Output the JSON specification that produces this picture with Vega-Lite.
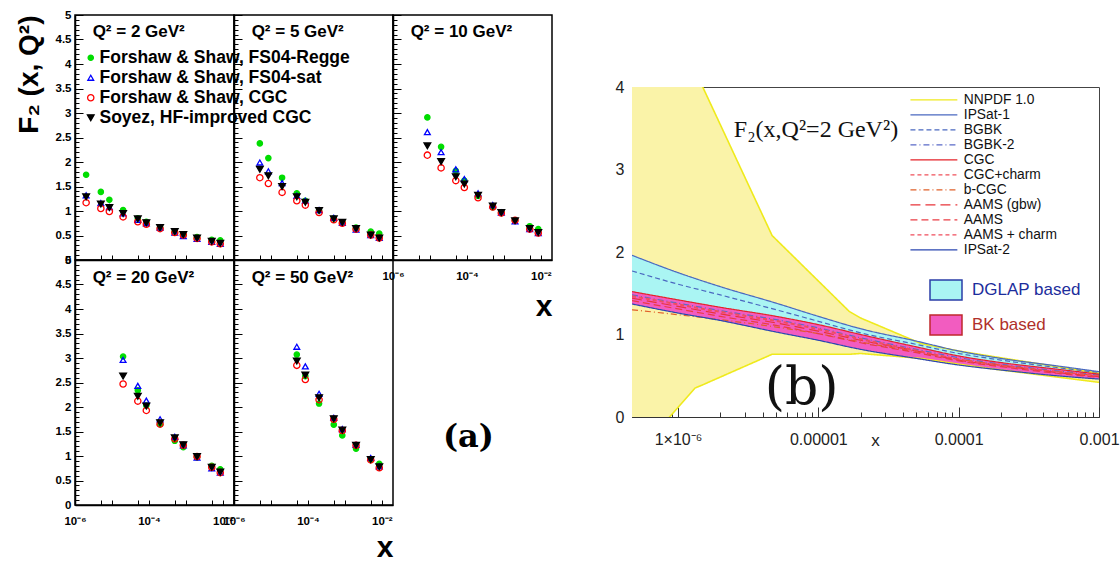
{
  "$schema": "https://vega.github.io/schema/vega-lite/v6.json",
  "padding": {"left": 14, "top": 8, "right": 0, "bottom": 0},
  "background": "white",
  "config": {"font": "Liberation Sans", "axis": {"grid": false}},
  "datasets": {
    "fs": [
      {"Q":2,"x":2e-6,"R":1.74,"S":1.32,"C":1.17,"Y":1.29},
      {"Q":2,"x":5e-6,"R":1.39,"S":1.16,"C":1.05,"Y":1.14},
      {"Q":2,"x":8.5e-6,"R":1.23,"S":1.08,"C":0.99,"Y":1.07},
      {"Q":2,"x":2e-5,"R":1.02,"S":0.95,"C":0.88,"Y":0.95},
      {"Q":2,"x":5e-5,"R":0.85,"S":0.82,"C":0.78,"Y":0.84},
      {"Q":2,"x":8.5e-5,"R":0.78,"S":0.75,"C":0.73,"Y":0.76},
      {"Q":2,"x":2e-4,"R":0.66,"S":0.66,"C":0.64,"Y":0.66},
      {"Q":2,"x":5e-4,"R":0.58,"S":0.56,"C":0.56,"Y":0.58},
      {"Q":2,"x":8.5e-4,"R":0.51,"S":0.49,"C":0.51,"Y":0.52},
      {"Q":2,"x":2e-3,"R":0.47,"S":0.43,"C":0.44,"Y":0.45},
      {"Q":2,"x":5e-3,"R":0.41,"S":0.37,"C":0.37,"Y":0.38},
      {"Q":2,"x":8.5e-3,"R":0.40,"S":0.33,"C":0.33,"Y":0.34},
      {"Q":5,"x":5e-6,"R":2.38,"S":1.99,"C":1.68,"Y":1.85},
      {"Q":5,"x":8.5e-6,"R":2.08,"S":1.81,"C":1.56,"Y":1.72},
      {"Q":5,"x":2e-5,"R":1.68,"S":1.57,"C":1.38,"Y":1.50},
      {"Q":5,"x":5e-5,"R":1.36,"S":1.31,"C":1.21,"Y":1.29},
      {"Q":5,"x":8.5e-5,"R":1.21,"S":1.21,"C":1.12,"Y":1.18},
      {"Q":5,"x":2e-4,"R":1.01,"S":1.02,"C":0.97,"Y":1.01},
      {"Q":5,"x":5e-4,"R":0.85,"S":0.86,"C":0.82,"Y":0.84},
      {"Q":5,"x":8.5e-4,"R":0.77,"S":0.76,"C":0.75,"Y":0.77},
      {"Q":5,"x":2e-3,"R":0.66,"S":0.62,"C":0.63,"Y":0.64},
      {"Q":5,"x":5e-3,"R":0.58,"S":0.51,"C":0.51,"Y":0.51},
      {"Q":5,"x":8.5e-3,"R":0.54,"S":0.45,"C":0.45,"Y":0.45},
      {"Q":10,"x":8.5e-6,"R":2.91,"S":2.61,"C":2.14,"Y":2.33},
      {"Q":10,"x":2e-5,"R":2.31,"S":2.20,"C":1.88,"Y":2.01},
      {"Q":10,"x":5e-5,"R":1.82,"S":1.85,"C":1.62,"Y":1.70},
      {"Q":10,"x":8.5e-5,"R":1.62,"S":1.65,"C":1.48,"Y":1.55},
      {"Q":10,"x":2e-4,"R":1.31,"S":1.36,"C":1.27,"Y":1.32},
      {"Q":10,"x":5e-4,"R":1.08,"S":1.12,"C":1.08,"Y":1.10},
      {"Q":10,"x":8.5e-4,"R":0.96,"S":0.97,"C":0.96,"Y":0.97},
      {"Q":10,"x":2e-3,"R":0.81,"S":0.79,"C":0.81,"Y":0.80},
      {"Q":10,"x":5e-3,"R":0.69,"S":0.63,"C":0.63,"Y":0.64},
      {"Q":10,"x":8.5e-3,"R":0.63,"S":0.55,"C":0.55,"Y":0.56},
      {"Q":20,"x":2e-5,"R":3.03,"S":2.96,"C":2.47,"Y":2.63},
      {"Q":20,"x":5e-5,"R":2.34,"S":2.43,"C":2.12,"Y":2.22},
      {"Q":20,"x":8.5e-5,"R":2.03,"S":2.13,"C":1.93,"Y":2.02},
      {"Q":20,"x":2e-4,"R":1.65,"S":1.75,"C":1.65,"Y":1.68},
      {"Q":20,"x":5e-4,"R":1.31,"S":1.39,"C":1.35,"Y":1.37},
      {"Q":20,"x":8.5e-4,"R":1.18,"S":1.22,"C":1.22,"Y":1.23},
      {"Q":20,"x":2e-3,"R":0.97,"S":0.97,"C":0.99,"Y":0.99},
      {"Q":20,"x":5e-3,"R":0.80,"S":0.75,"C":0.77,"Y":0.77},
      {"Q":20,"x":8.5e-3,"R":0.73,"S":0.66,"C":0.66,"Y":0.67},
      {"Q":50,"x":5e-5,"R":3.07,"S":3.23,"C":2.85,"Y":2.94},
      {"Q":50,"x":8.5e-5,"R":2.63,"S":2.83,"C":2.56,"Y":2.65},
      {"Q":50,"x":2e-4,"R":2.07,"S":2.27,"C":2.15,"Y":2.19},
      {"Q":50,"x":5e-4,"R":1.64,"S":1.78,"C":1.75,"Y":1.76},
      {"Q":50,"x":8.5e-4,"R":1.42,"S":1.55,"C":1.52,"Y":1.53},
      {"Q":50,"x":2e-3,"R":1.15,"S":1.23,"C":1.22,"Y":1.22},
      {"Q":50,"x":5e-3,"R":0.93,"S":0.96,"C":0.92,"Y":0.93},
      {"Q":50,"x":8.5e-3,"R":0.84,"S":0.79,"C":0.76,"Y":0.78}
    ],
    "nn": [
      {"x":4.7e-7,"lo":-0.8,"hi":5.3},
      {"x":8.7e-7,"lo":0.0,"hi":4.61},
      {"x":1.32e-6,"lo":0.35,"hi":4.14},
      {"x":1.5e-6,"lo":0.39,"hi":4.0},
      {"x":4.68e-6,"lo":0.76,"hi":2.2},
      {"x":1.66e-5,"lo":0.76,"hi":1.28},
      {"x":2e-5,"lo":0.77,"hi":1.20},
      {"x":5.4e-5,"lo":0.71,"hi":0.89},
      {"x":1e-4,"lo":0.64,"hi":0.80},
      {"x":1.8e-4,"lo":0.58,"hi":0.73},
      {"x":1e-3,"lo":0.42,"hi":0.53}
    ],
    "cv": [
      {"x":4.7e-7,"IPSat-1":1.96,"BGBK":1.77,"BGBK-2":1.48,"CGC":1.52,"CGC+charm":1.47,"b-CGC":1.30,"AAMS (gbw)":1.44,"AAMS":1.41,"AAMS + charm":1.46,"IPSat-2":1.37},
      {"x":1e-6,"IPSat-1":1.75,"BGBK":1.61,"BGBK-2":1.38,"CGC":1.42,"CGC+charm":1.37,"b-CGC":1.24,"AAMS (gbw)":1.34,"AAMS":1.31,"AAMS + charm":1.36,"IPSat-2":1.26},
      {"x":2e-6,"IPSat-1":1.58,"BGBK":1.48,"BGBK-2":1.29,"CGC":1.33,"CGC+charm":1.28,"b-CGC":1.18,"AAMS (gbw)":1.25,"AAMS":1.22,"AAMS + charm":1.27,"IPSat-2":1.17},
      {"x":5e-6,"IPSat-1":1.38,"BGBK":1.30,"BGBK-2":1.18,"CGC":1.22,"CGC+charm":1.17,"b-CGC":1.09,"AAMS (gbw)":1.14,"AAMS":1.11,"AAMS + charm":1.16,"IPSat-2":1.03},
      {"x":1e-5,"IPSat-1":1.22,"BGBK":1.16,"BGBK-2":1.08,"CGC":1.12,"CGC+charm":1.07,"b-CGC":1.01,"AAMS (gbw)":1.04,"AAMS":1.01,"AAMS + charm":1.06,"IPSat-2":0.93},
      {"x":2e-5,"IPSat-1":1.07,"BGBK":1.02,"BGBK-2":0.96,"CGC":1.00,"CGC+charm":0.95,"b-CGC":0.91,"AAMS (gbw)":0.93,"AAMS":0.90,"AAMS + charm":0.94,"IPSat-2":0.82},
      {"x":5e-5,"IPSat-1":0.92,"BGBK":0.88,"BGBK-2":0.82,"CGC":0.85,"CGC+charm":0.81,"b-CGC":0.79,"AAMS (gbw)":0.80,"AAMS":0.78,"AAMS + charm":0.80,"IPSat-2":0.71},
      {"x":1e-4,"IPSat-1":0.80,"BGBK":0.77,"BGBK-2":0.72,"CGC":0.74,"CGC+charm":0.70,"b-CGC":0.70,"AAMS (gbw)":0.69,"AAMS":0.68,"AAMS + charm":0.70,"IPSat-2":0.63},
      {"x":2e-4,"IPSat-1":0.71,"BGBK":0.69,"BGBK-2":0.64,"CGC":0.66,"CGC+charm":0.63,"b-CGC":0.63,"AAMS (gbw)":0.62,"AAMS":0.61,"AAMS + charm":0.62,"IPSat-2":0.57},
      {"x":5e-4,"IPSat-1":0.62,"BGBK":0.60,"BGBK-2":0.56,"CGC":0.58,"CGC+charm":0.55,"b-CGC":0.55,"AAMS (gbw)":0.54,"AAMS":0.53,"AAMS + charm":0.55,"IPSat-2":0.50},
      {"x":1e-3,"IPSat-1":0.55,"BGBK":0.54,"BGBK-2":0.51,"CGC":0.52,"CGC+charm":0.50,"b-CGC":0.50,"AAMS (gbw)":0.49,"AAMS":0.48,"AAMS + charm":0.50,"IPSat-2":0.46}
    ]
  },
  "spacing": 61,
  "resolve": {"scale": {"fill": "independent", "stroke": "independent", "shape": "independent", "size": "independent", "strokeDash": "independent"}},
  "hconcat": [
    {
      "columns": 3,
      "spacing": 0,
      "bounds": "flush",
      "resolve": {"scale": {"fill": "independent", "stroke": "independent", "shape": "independent", "size": "independent"}},
      "concat": [
        {
          "width": 159, "height": 245,
          "view": {"stroke": "black", "strokeWidth": 1.5},
          "resolve": {"axis": {"y": "independent"}},
          "layer": [
            {
              "data": {"name": "fs"},
              "transform": [{"filter": "datum.Q == 2"}, {"fold": ["R", "S", "C", "Y"], "as": ["m", "F"]}],
              "mark": {"type": "point", "opacity": 1, "strokeWidth": 1.3},
              "encoding": {
                "x": {"field": "x", "type": "quantitative", "scale": {"type": "log", "domain": [0.000001, 0.02], "nice": false},
                  "axis": {"values": [1e-6, 5e-6, 1e-5, 5e-5, 1e-4, 5e-4, 1e-3, 5e-3, 1e-2], "labels": false, "tickSize": -5, "tickColor": "black", "domainColor": "black", "domainWidth": 1.5, "title": null}},
                "y": {"field": "F", "type": "quantitative", "scale": {"domain": [0, 5], "nice": false, "zero": false},
                  "axis": {"orient": "left", "values": [0,0.5,1,1.5,2,2.5,3,3.5,4,4.5,5],
                    "labelExpr": "'' + datum.value", "tickSize": -8,
                    "labelPadding": 12, "labelFont": "Liberation Sans", "labelFontWeight": "bold", "labelFontSize": 11.5, "labelColor": "black",
                    "labelOverlap": false, "labelFlush": false,
                    "tickColor": "black", "domainColor": "black", "domainWidth": 1.5,
                    "title": "F₂ (x, Q²)", "titleFont": "Liberation Sans", "titleFontWeight": "bold", "titleFontSize": 28, "titleColor": "black",
                    "titleAngle": 270, "titleX": -38, "titleY": 0, "titleAlign": "right", "titleBaseline": "alphabetic"}},
                "shape": {"field": "m", "type": "nominal", "scale": {"domain": ["R", "S", "C", "Y"], "range": ["circle", "triangle-up", "circle", "triangle-down"]},
                  "legend": {"orient": "none", "legendX": 7, "legendY": 34, "title": null, "padding": 0, "labelExpr": "datum.label == 'R' ? 'Forshaw & Shaw, FS04-Regge' : datum.label == 'S' ? 'Forshaw & Shaw, FS04-sat' : datum.label == 'C' ? 'Forshaw & Shaw, CGC' : 'Soyez, HF-improved CGC'", "labelFont": "Liberation Sans", "labelFontWeight": "bold", "labelFontSize": 17.5, "labelColor": "black", "labelLimit": 500, "labelOffset": 0, "rowPadding": 1, "symbolStrokeWidth": 1.3, "encode": {"symbols": {"update": {"size": {"value": 22}}}}}},
                "fill": {"field": "m", "type": "nominal", "scale": {"domain": ["R", "S", "C", "Y"], "range": ["#00dd00", "transparent", "transparent", "#000000"]},
                  "legend": {"orient": "none", "legendX": 7, "legendY": 34, "title": null, "padding": 0, "labelExpr": "datum.label == 'R' ? 'Forshaw & Shaw, FS04-Regge' : datum.label == 'S' ? 'Forshaw & Shaw, FS04-sat' : datum.label == 'C' ? 'Forshaw & Shaw, CGC' : 'Soyez, HF-improved CGC'", "labelFont": "Liberation Sans", "labelFontWeight": "bold", "labelFontSize": 17.5, "labelColor": "black", "labelLimit": 500, "labelOffset": 0, "rowPadding": 1, "symbolStrokeWidth": 1.3, "encode": {"symbols": {"update": {"size": {"value": 22}}}}}},
                "stroke": {"field": "m", "type": "nominal", "scale": {"domain": ["R", "S", "C", "Y"], "range": ["#00dd00", "#0000ff", "#ff0000", "#000000"]},
                  "legend": {"orient": "none", "legendX": 7, "legendY": 34, "title": null, "padding": 0, "labelExpr": "datum.label == 'R' ? 'Forshaw & Shaw, FS04-Regge' : datum.label == 'S' ? 'Forshaw & Shaw, FS04-sat' : datum.label == 'C' ? 'Forshaw & Shaw, CGC' : 'Soyez, HF-improved CGC'", "labelFont": "Liberation Sans", "labelFontWeight": "bold", "labelFontSize": 17.5, "labelColor": "black", "labelLimit": 500, "labelOffset": 0, "rowPadding": 1, "symbolStrokeWidth": 1.3, "encode": {"symbols": {"update": {"size": {"value": 22}}}}}},
                "size": {"field": "m", "type": "nominal", "scale": {"domain": ["R", "S", "C", "Y"], "range": [28, 45, 45, 26]},
                  "legend": {"orient": "none", "legendX": 7, "legendY": 34, "title": null, "padding": 0, "labelExpr": "datum.label == 'R' ? 'Forshaw & Shaw, FS04-Regge' : datum.label == 'S' ? 'Forshaw & Shaw, FS04-sat' : datum.label == 'C' ? 'Forshaw & Shaw, CGC' : 'Soyez, HF-improved CGC'", "labelFont": "Liberation Sans", "labelFontWeight": "bold", "labelFontSize": 17.5, "labelColor": "black", "labelLimit": 500, "labelOffset": 0, "rowPadding": 1, "symbolStrokeWidth": 1.3, "encode": {"symbols": {"update": {"size": {"value": 22}}}}}}
              }
            },
            {
              "data": {"values": [{}]},
              "mark": {"type": "text", "align": "left", "baseline": "middle", "font": "Liberation Sans", "fontWeight": "bold", "fontSize": 17, "fill": "black"},
              "encoding": {"x": {"datum": 3e-6}, "y": {"datum": 4.65, "axis": {"orient": "left", "values": [0.1,0.2,0.3,0.4,0.6,0.7,0.8,0.9,1.1,1.2,1.3,1.4,1.6,1.7,1.8,1.9,2.1,2.2,2.3,2.4,2.6,2.7,2.8,2.9,3.1,3.2,3.3,3.4,3.6,3.7,3.8,3.9,4.1,4.2,4.3,4.4,4.6,4.7,4.8,4.9], "labels": false, "domain": false, "tickSize": -4, "tickColor": "black", "title": null}}, "text": {"value": "Q² = 2 GeV²"}}
            }
          ]
        },
        {
          "width": 159, "height": 245,
          "view": {"stroke": "black", "strokeWidth": 1.5},
          "resolve": {"axis": {"y": "independent"}},
          "layer": [
            {
              "data": {"name": "fs"},
              "transform": [{"filter": "datum.Q == 5"}, {"fold": ["R", "S", "C", "Y"], "as": ["m", "F"]}],
              "mark": {"type": "point", "opacity": 1, "strokeWidth": 1.3},
              "encoding": {
                "x": {"field": "x", "type": "quantitative", "scale": {"type": "log", "domain": [0.000001, 0.02], "nice": false},
                  "axis": {"values": [1e-6, 5e-6, 1e-5, 5e-5, 1e-4, 5e-4, 1e-3, 5e-3, 1e-2], "labels": false, "tickSize": -5, "tickColor": "black", "domainColor": "black", "domainWidth": 1.5, "title": null}},
                "y": {"field": "F", "type": "quantitative", "scale": {"domain": [0, 5], "nice": false, "zero": false},
                  "axis": {"orient": "left", "values": [0,0.5,1,1.5,2,2.5,3,3.5,4,4.5,5], "labels": false, "tickSize": -8, "tickColor": "black", "domainColor": "black", "domainWidth": 1.5, "title": null}},
                "shape": {"field": "m", "type": "nominal", "scale": {"domain": ["R", "S", "C", "Y"], "range": ["circle", "triangle-up", "circle", "triangle-down"]}, "legend": null},
                "fill": {"field": "m", "type": "nominal", "scale": {"domain": ["R", "S", "C", "Y"], "range": ["#00dd00", "transparent", "transparent", "#000000"]}, "legend": null},
                "stroke": {"field": "m", "type": "nominal", "scale": {"domain": ["R", "S", "C", "Y"], "range": ["#00dd00", "#0000ff", "#ff0000", "#000000"]}, "legend": null},
                "size": {"field": "m", "type": "nominal", "scale": {"domain": ["R", "S", "C", "Y"], "range": [28, 45, 45, 26]}, "legend": null}
              }
            },
            {
              "data": {"values": [{}]},
              "mark": {"type": "text", "align": "left", "baseline": "middle", "font": "Liberation Sans", "fontWeight": "bold", "fontSize": 17, "fill": "black"},
              "encoding": {"x": {"datum": 3e-6}, "y": {"datum": 4.65, "axis": {"orient": "left", "values": [0.1,0.2,0.3,0.4,0.6,0.7,0.8,0.9,1.1,1.2,1.3,1.4,1.6,1.7,1.8,1.9,2.1,2.2,2.3,2.4,2.6,2.7,2.8,2.9,3.1,3.2,3.3,3.4,3.6,3.7,3.8,3.9,4.1,4.2,4.3,4.4,4.6,4.7,4.8,4.9], "labels": false, "domain": false, "tickSize": -4, "tickColor": "black", "title": null}}, "text": {"value": "Q² = 5 GeV²"}}
            }
          ]
        },
        {
          "width": 159, "height": 245,
          "view": {"stroke": "black", "strokeWidth": 1.5},
          "resolve": {"axis": {"y": "independent"}},
          "layer": [
            {
              "data": {"name": "fs"},
              "transform": [{"filter": "datum.Q == 10"}, {"fold": ["R", "S", "C", "Y"], "as": ["m", "F"]}],
              "mark": {"type": "point", "opacity": 1, "strokeWidth": 1.3},
              "encoding": {
                "x": {"field": "x", "type": "quantitative", "scale": {"type": "log", "domain": [0.000001, 0.02], "nice": false},
                  "axis": {"values": [1e-6, 5e-6, 1e-5, 5e-5, 1e-4, 5e-4, 1e-3, 5e-3, 1e-2],
                    "labelExpr": "datum.value == 1e-6 ? '10⁻⁶' : datum.value == 1e-4 ? '10⁻⁴' : datum.value == 1e-2 ? '10⁻²' : ''",
                    "labelFont": "Liberation Sans", "labelFontWeight": "bold", "labelFontSize": 11.5, "labelColor": "black",
                    "labelFlush": false, "labelOverlap": false, "labelPadding": 15,
                    "tickSize": -5, "tickColor": "black", "domainColor": "black", "domainWidth": 1.5,
                    "title": "x", "titleFont": "Liberation Sans", "titleFontWeight": "bold", "titleFontSize": 30, "titleColor": "black",
                    "titleX": 159, "titleY": 55, "titleAlign": "right", "titleBaseline": "alphabetic"}},
                "y": {"field": "F", "type": "quantitative", "scale": {"domain": [0, 5], "nice": false, "zero": false},
                  "axis": {"orient": "left", "values": [0,0.5,1,1.5,2,2.5,3,3.5,4,4.5,5], "labels": false, "tickSize": -8, "tickColor": "black", "domainColor": "black", "domainWidth": 1.5, "title": null}},
                "shape": {"field": "m", "type": "nominal", "scale": {"domain": ["R", "S", "C", "Y"], "range": ["circle", "triangle-up", "circle", "triangle-down"]}, "legend": null},
                "fill": {"field": "m", "type": "nominal", "scale": {"domain": ["R", "S", "C", "Y"], "range": ["#00dd00", "transparent", "transparent", "#000000"]}, "legend": null},
                "stroke": {"field": "m", "type": "nominal", "scale": {"domain": ["R", "S", "C", "Y"], "range": ["#00dd00", "#0000ff", "#ff0000", "#000000"]}, "legend": null},
                "size": {"field": "m", "type": "nominal", "scale": {"domain": ["R", "S", "C", "Y"], "range": [28, 45, 45, 26]}, "legend": null}
              }
            },
            {
              "data": {"values": [{}]},
              "mark": {"type": "text", "align": "left", "baseline": "middle", "font": "Liberation Sans", "fontWeight": "bold", "fontSize": 17, "fill": "black"},
              "encoding": {"x": {"datum": 3e-6}, "y": {"datum": 4.65, "axis": {"orient": "left", "values": [0.1,0.2,0.3,0.4,0.6,0.7,0.8,0.9,1.1,1.2,1.3,1.4,1.6,1.7,1.8,1.9,2.1,2.2,2.3,2.4,2.6,2.7,2.8,2.9,3.1,3.2,3.3,3.4,3.6,3.7,3.8,3.9,4.1,4.2,4.3,4.4,4.6,4.7,4.8,4.9], "labels": false, "domain": false, "tickSize": -4, "tickColor": "black", "title": null}}, "text": {"value": "Q² = 10 GeV²"}}
            }
          ]
        },
        {
          "width": 159, "height": 245,
          "view": {"stroke": "black", "strokeWidth": 1.5},
          "resolve": {"axis": {"y": "independent"}},
          "layer": [
            {
              "data": {"name": "fs"},
              "transform": [{"filter": "datum.Q == 20"}, {"fold": ["R", "S", "C", "Y"], "as": ["m", "F"]}],
              "mark": {"type": "point", "opacity": 1, "strokeWidth": 1.3},
              "encoding": {
                "x": {"field": "x", "type": "quantitative", "scale": {"type": "log", "domain": [0.000001, 0.02], "nice": false},
                  "axis": {"values": [1e-6, 5e-6, 1e-5, 5e-5, 1e-4, 5e-4, 1e-3, 5e-3, 1e-2],
                    "labelExpr": "datum.value == 1e-6 ? '10⁻⁶' : datum.value == 1e-4 ? '10⁻⁴' : datum.value == 1e-2 ? '10⁻²' : ''",
                    "labelFont": "Liberation Sans", "labelFontWeight": "bold", "labelFontSize": 11.5, "labelColor": "black",
                    "labelFlush": false, "labelOverlap": false, "labelPadding": 15,
                    "tickSize": -5, "tickColor": "black", "domainColor": "black", "domainWidth": 1.5, "title": null}},
                "y": {"field": "F", "type": "quantitative", "scale": {"domain": [0, 5], "nice": false, "zero": false},
                  "axis": {"orient": "left", "values": [0,0.5,1,1.5,2,2.5,3,3.5,4,4.5,5],
                    "labelExpr": "'' + datum.value", "tickSize": -8,
                    "labelPadding": 12, "labelFont": "Liberation Sans", "labelFontWeight": "bold", "labelFontSize": 11.5, "labelColor": "black",
                    "labelOverlap": false, "labelFlush": false,
                    "tickColor": "black", "domainColor": "black", "domainWidth": 1.5, "title": null}},
                "shape": {"field": "m", "type": "nominal", "scale": {"domain": ["R", "S", "C", "Y"], "range": ["circle", "triangle-up", "circle", "triangle-down"]}, "legend": null},
                "fill": {"field": "m", "type": "nominal", "scale": {"domain": ["R", "S", "C", "Y"], "range": ["#00dd00", "transparent", "transparent", "#000000"]}, "legend": null},
                "stroke": {"field": "m", "type": "nominal", "scale": {"domain": ["R", "S", "C", "Y"], "range": ["#00dd00", "#0000ff", "#ff0000", "#000000"]}, "legend": null},
                "size": {"field": "m", "type": "nominal", "scale": {"domain": ["R", "S", "C", "Y"], "range": [28, 45, 45, 26]}, "legend": null}
              }
            },
            {
              "data": {"values": [{}]},
              "mark": {"type": "text", "align": "left", "baseline": "middle", "font": "Liberation Sans", "fontWeight": "bold", "fontSize": 17, "fill": "black"},
              "encoding": {"x": {"datum": 3e-6}, "y": {"datum": 4.63, "axis": {"orient": "left", "values": [0.1,0.2,0.3,0.4,0.6,0.7,0.8,0.9,1.1,1.2,1.3,1.4,1.6,1.7,1.8,1.9,2.1,2.2,2.3,2.4,2.6,2.7,2.8,2.9,3.1,3.2,3.3,3.4,3.6,3.7,3.8,3.9,4.1,4.2,4.3,4.4,4.6,4.7,4.8,4.9], "labels": false, "domain": false, "tickSize": -4, "tickColor": "black", "title": null}}, "text": {"value": "Q² = 20 GeV²"}}
            }
          ]
        },
        {
          "width": 159, "height": 245,
          "view": {"stroke": "black", "strokeWidth": 1.5},
          "resolve": {"axis": {"y": "independent"}},
          "layer": [
            {
              "data": {"name": "fs"},
              "transform": [{"filter": "datum.Q == 50"}, {"fold": ["R", "S", "C", "Y"], "as": ["m", "F"]}],
              "mark": {"type": "point", "opacity": 1, "strokeWidth": 1.3},
              "encoding": {
                "x": {"field": "x", "type": "quantitative", "scale": {"type": "log", "domain": [0.000001, 0.02], "nice": false},
                  "axis": {"values": [1e-6, 5e-6, 1e-5, 5e-5, 1e-4, 5e-4, 1e-3, 5e-3, 1e-2],
                    "labelExpr": "datum.value == 1e-6 ? '10⁻⁶' : datum.value == 1e-4 ? '10⁻⁴' : datum.value == 1e-2 ? '10⁻²' : ''",
                    "labelFont": "Liberation Sans", "labelFontWeight": "bold", "labelFontSize": 11.5, "labelColor": "black",
                    "labelFlush": false, "labelOverlap": false, "labelPadding": 15,
                    "tickSize": -5, "tickColor": "black", "domainColor": "black", "domainWidth": 1.5,
                    "title": "x", "titleFont": "Liberation Sans", "titleFontWeight": "bold", "titleFontSize": 30, "titleColor": "black",
                    "titleX": 159, "titleY": 51, "titleAlign": "right", "titleBaseline": "alphabetic"}},
                "y": {"field": "F", "type": "quantitative", "scale": {"domain": [0, 5], "nice": false, "zero": false},
                  "axis": {"orient": "left", "values": [0,0.5,1,1.5,2,2.5,3,3.5,4,4.5,5], "labels": false, "tickSize": -8, "tickColor": "black", "domainColor": "black", "domainWidth": 1.5, "title": null}},
                "shape": {"field": "m", "type": "nominal", "scale": {"domain": ["R", "S", "C", "Y"], "range": ["circle", "triangle-up", "circle", "triangle-down"]}, "legend": null},
                "fill": {"field": "m", "type": "nominal", "scale": {"domain": ["R", "S", "C", "Y"], "range": ["#00dd00", "transparent", "transparent", "#000000"]}, "legend": null},
                "stroke": {"field": "m", "type": "nominal", "scale": {"domain": ["R", "S", "C", "Y"], "range": ["#00dd00", "#0000ff", "#ff0000", "#000000"]}, "legend": null},
                "size": {"field": "m", "type": "nominal", "scale": {"domain": ["R", "S", "C", "Y"], "range": [28, 45, 45, 26]}, "legend": null}
              }
            },
            {
              "data": {"values": [{}]},
              "mark": {"type": "text", "align": "left", "baseline": "middle", "font": "Liberation Sans", "fontWeight": "bold", "fontSize": 17, "fill": "black"},
              "encoding": {"x": {"datum": 3e-6}, "y": {"datum": 4.63, "axis": {"orient": "left", "values": [0.1,0.2,0.3,0.4,0.6,0.7,0.8,0.9,1.1,1.2,1.3,1.4,1.6,1.7,1.8,1.9,2.1,2.2,2.3,2.4,2.6,2.7,2.8,2.9,3.1,3.2,3.3,3.4,3.6,3.7,3.8,3.9,4.1,4.2,4.3,4.4,4.6,4.7,4.8,4.9], "labels": false, "domain": false, "tickSize": -4, "tickColor": "black", "title": null}}, "text": {"value": "Q² = 50 GeV²"}}
            },
            {
              "data": {"values": [{}]},
              "mark": {"type": "text", "align": "center", "baseline": "middle", "font": "DejaVu Serif", "fontWeight": "bold", "fontSize": 32, "fill": "black", "clip": false},
              "encoding": {"x": {"datum": 2.2}, "y": {"datum": 1.39, "axis": null}, "text": {"value": "(a)"}}
            }
          ]
        }
      ]
    },
    {
      "spacing": 0,
      "bounds": "flush",
      "vconcat": [
        {
          "width": 10, "height": 72,
          "view": {"stroke": null},
          "data": {"values": [{}]},
          "mark": {"type": "text"},
          "encoding": {"text": {"value": ""}}
        },
        {
          "width": 467, "height": 330,
          "view": {"stroke": "#444", "strokeWidth": 1},
          "resolve": {"axis": {"y": "independent"}},
          "layer": [
            {
              "data": {"name": "nn"},
              "mark": {"type": "area", "fill": "#faf3a8", "clip": true},
              "encoding": {
                "x": {"field": "x", "type": "quantitative", "scale": {"type": "log", "domain": [4.7e-7, 0.001], "nice": false},
                  "axis": {"values": [5e-7,6e-7,7e-7,8e-7,9e-7,1e-6,2e-6,3e-6,4e-6,5e-6,6e-6,7e-6,8e-6,9e-6,1e-5,2e-5,3e-5,4e-5,5e-5,6e-5,7e-5,8e-5,9e-5,1e-4,2e-4,3e-4,4e-4,5e-4,6e-4,7e-4,8e-4,9e-4,1e-3],
                    "labelExpr": "datum.value == 1e-6 ? '1×10⁻⁶' : datum.value == 1e-5 ? '0.00001' : datum.value == 1e-4 ? '0.0001' : datum.value == 1e-3 ? '0.001' : ''",
                    "tickSize": {"condition": {"test": "datum.value == 1e-6 || datum.value == 1e-5 || datum.value == 1e-4 || datum.value == 1e-3", "value": -10}, "value": -5},
                    "labelFont": "Liberation Sans", "labelFontSize": 16, "labelColor": "#222", "labelPadding": 24, "labelFlush": false, "labelOverlap": false,
                    "tickColor": "#333", "domainColor": "#333",
                    "title": "x", "titleFont": "Liberation Sans", "titleFontSize": 17, "titleFontWeight": "normal", "titleColor": "#222",
                    "titleX": 243, "titleY": 28, "titleBaseline": "alphabetic", "titleAlign": "center"}},
                "y": {"field": "lo", "type": "quantitative", "title": null, "scale": {"domain": [0, 4], "nice": false, "zero": false},
                  "axis": {"orient": "left", "values": [0, 1, 2, 3, 4],
                    "labelExpr": "'' + datum.value", "tickSize": -9,
                    "labelFont": "Liberation Sans", "labelFontSize": 16, "labelColor": "#222", "labelPadding": 17, "labelOverlap": false, "labelFlush": false,
                    "tickColor": "#333", "domainColor": "#333", "title": null}},
                "y2": {"field": "hi"}
              }
            },
            {
              "data": {"name": "cv"},
              "mark": {"type": "area", "clip": true, "interpolate": "monotone"},
              "encoding": {
                "x": {"field": "x", "type": "quantitative"},
                "y": {"field": "IPSat-2", "type": "quantitative", "title": null, "axis": null},
                "y2": {"field": "IPSat-1"},
                "fill": {"datum": "DGLAP based", "type": "nominal",
                  "scale": {"domain": ["DGLAP based", "BK based"], "range": ["#aaf5f3", "#f25cc0"]},
                  "legend": {"orient": "none", "legendX": 303, "legendY": 264, "title": null, "padding": 0,
                    "symbolType": "M-1.6,-1H1.6V1H-1.6Z", "symbolSize": 400, "symbolStrokeWidth": 1.5,
                    "labelFont": "Liberation Sans", "labelFontSize": 17, "labelOffset": 15, "rowPadding": 9, "labelLimit": 500,
                    "labelExpr": "datum.label == 'BK based' ? ' BK  based' : datum.label",
                    "encode": {
                      "symbols": {"update": {"stroke": {"signal": "datum.value == 'DGLAP based' ? '#2a3ea8' : '#c0282c'"}, "strokeWidth": {"value": 1.5}}},
                      "labels": {"update": {"fill": {"signal": "datum.value == 'DGLAP based' ? '#1c2d9c' : '#b0302a'"}}}
                    }}}
              }
            },
            {
              "data": {"name": "cv"},
              "mark": {"type": "area", "clip": true, "interpolate": "monotone"},
              "encoding": {
                "x": {"field": "x", "type": "quantitative"},
                "y": {"field": "IPSat-2", "type": "quantitative", "title": null, "axis": null},
                "y2": {"field": "CGC"},
                "fill": {"datum": "BK based", "type": "nominal"}
              }
            },
            {
              "data": {"name": "nn"},
              "transform": [{"fold": ["lo", "hi"], "as": ["part", "v"]}],
              "mark": {"type": "line", "clip": true, "strokeWidth": 1.6},
              "encoding": {
                "x": {"field": "x", "type": "quantitative"},
                "y": {"field": "v", "type": "quantitative", "title": null, "axis": null},
                "detail": {"field": "part", "type": "nominal"},
                "stroke": {"datum": "NNPDF 1.0", "type": "nominal", "title": null,
                  "scale": {"domain": ["NNPDF 1.0", "IPSat-1", "BGBK", "BGBK-2", "CGC", "CGC+charm", "b-CGC", "AAMS (gbw)", "AAMS", "AAMS + charm", "IPSat-2"],
                    "range": ["#efea1c", "#4a68c0", "#4a68c0", "#5a6ac8", "#e52228", "#f0505a", "#e0602a", "#e8343a", "#ea3c44", "#f04c5c", "#2a46b0"]},
                  "legend": {"orient": "none", "legendX": 295, "legendY": 78, "title": null, "padding": 0,
                    "symbolType": "M-5,0H5", "symbolSize": 88, "symbolStrokeWidth": 1.3, "symbolFillColor": "transparent",
                    "labelFont": "Liberation Sans", "labelFontSize": 13.8, "labelColor": "#111", "labelOffset": 23, "rowPadding": 0, "labelLimit": 500}},
                "strokeDash": {"datum": "NNPDF 1.0", "type": "nominal", "title": null,
                  "scale": {"domain": ["NNPDF 1.0", "IPSat-1", "BGBK", "BGBK-2", "CGC", "CGC+charm", "b-CGC", "AAMS (gbw)", "AAMS", "AAMS + charm", "IPSat-2"],
                    "range": [[1, 0], [1, 0], [5, 3], [6, 3, 1, 3], [1, 0], [4, 3], [6, 3, 1, 3], [10, 5], [7, 4], [4, 3], [1, 0]]},
                  "legend": {"orient": "none", "legendX": 295, "legendY": 78, "title": null, "padding": 0,
                    "symbolType": "M-5,0H5", "symbolSize": 88, "symbolStrokeWidth": 1.3, "symbolFillColor": "transparent",
                    "labelFont": "Liberation Sans", "labelFontSize": 13.8, "labelColor": "#111", "labelOffset": 23, "rowPadding": 0, "labelLimit": 500}}
              }
            },
            {
              "data": {"name": "cv"},
              "transform": [{"fold": ["IPSat-1", "BGBK", "BGBK-2", "CGC", "CGC+charm", "b-CGC", "AAMS (gbw)", "AAMS", "AAMS + charm", "IPSat-2"], "as": ["model", "v"]}],
              "mark": {"type": "line", "clip": true, "interpolate": "monotone", "strokeWidth": 1.2},
              "encoding": {
                "x": {"field": "x", "type": "quantitative"},
                "y": {"field": "v", "type": "quantitative", "title": null, "axis": null},
                "stroke": {"field": "model", "type": "nominal", "title": null,
                  "legend": {"orient": "none", "legendX": 295, "legendY": 78, "title": null, "padding": 0,
                    "symbolType": "M-5,0H5", "symbolSize": 88, "symbolStrokeWidth": 1.3, "symbolFillColor": "transparent",
                    "labelFont": "Liberation Sans", "labelFontSize": 13.8, "labelColor": "#111", "labelOffset": 23, "rowPadding": 0, "labelLimit": 500}},
                "strokeDash": {"field": "model", "type": "nominal", "title": null,
                  "legend": {"orient": "none", "legendX": 295, "legendY": 78, "title": null, "padding": 0,
                    "symbolType": "M-5,0H5", "symbolSize": 88, "symbolStrokeWidth": 1.3, "symbolFillColor": "transparent",
                    "labelFont": "Liberation Sans", "labelFontSize": 13.8, "labelColor": "#111", "labelOffset": 23, "rowPadding": 0, "labelLimit": 500}}
              }
            },
            {
              "data": {"values": [{}]},
              "mark": {"type": "text", "align": "left", "baseline": "middle", "font": "Liberation Serif", "fontSize": 24, "fill": "#111"},
              "encoding": {"x": {"datum": 2.5e-6}, "y": {"datum": 3.48, "axis": {"orient": "left", "values": [0.2,0.4,0.6,0.8,1.2,1.4,1.6,1.8,2.2,2.4,2.6,2.8,3.2,3.4,3.6,3.8], "labels": false, "domain": false, "tickSize": -5, "tickColor": "#333", "title": null}}, "text": {"value": "F₂(x,Q²=2 GeV²)"}}
            },
            {
              "data": {"values": [{}]},
              "mark": {"type": "text", "align": "center", "baseline": "middle", "font": "DejaVu Serif", "fontSize": 52, "fill": "#111"},
              "encoding": {"x": {"datum": 7.6e-6}, "y": {"datum": 0.35, "axis": null}, "text": {"value": "(b)"}}
            }
          ]
        }
      ]
    }
  ]
}
